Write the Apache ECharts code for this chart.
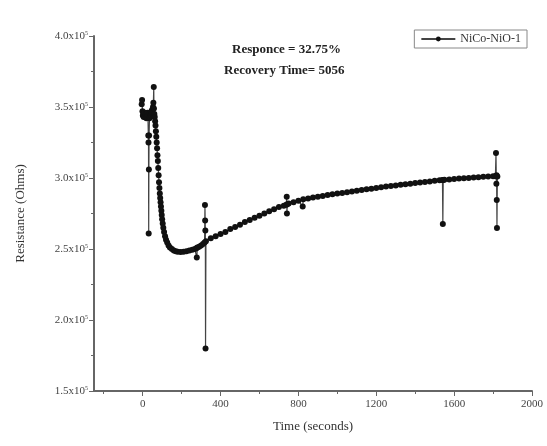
<!DOCTYPE html>
<html>
<head>
<meta charset="utf-8">
<script src="https://cdn.jsdelivr.net/npm/echarts@6/dist/echarts.min.js"></script>
<style>html,body{margin:0;padding:0;background:#fff}#c{width:547px;height:446px}</style>
</head>
<body>
<div id="c"></div>
<script>
// Time (s)
const times = [
 -5,-3,-1,1,3,5,7,9,11,13,15,17,19,21,23,25,27,29,30,31,32,33,35,37,39,41,43,45,47,49,51,53,55,57,58,60,62,
 64,66,68,70,72,74,76,78,80,82,84,86,88,90,92,94,96,98,100,103,106,110,115,120,126,133,140,150,160,170,180,195,210,225,240,255,268,276,278,281,290,300,310,318,320,321,322,323,
 325,350,375,400,425,450,475,500,525,550,575,600,625,650,675,700,725,738,740,741,743,750,775,800,822,825,850,875,900,925,950,975,1000,1025,1050,1075,1100,1125,1150,1175,1200,1225,1250,1275,1300,1325,1350,1375,1400,1425,1450,1475,1500,1525,1540,1542,1544,1550,1575,1600,1625,1650,1675,1700,1725,1750,1775,1800,1812,1815,1817,1818,1819,1820,1822
];
// Resistance (x10^5 Ohms)
const resistance = [
 3.52,3.55,3.47,3.44,3.46,3.43,3.45,3.44,3.46,3.43,3.45,3.44,3.42,3.45,3.43,3.46,3.44,3.30,3.25,2.61,3.06,3.30,3.42,3.45,3.43,3.46,3.44,3.47,3.45,3.48,3.46,3.50,3.53,3.64,3.49,3.45,3.43,
 3.40,3.37,3.33,3.29,3.25,3.21,3.16,3.12,3.07,3.02,2.97,2.93,2.89,2.86,2.83,2.80,2.77,2.74,2.71,2.68,2.65,2.62,2.59,2.565,2.545,2.525,2.51,2.50,2.49,2.485,2.48,2.478,2.48,2.485,2.49,2.495,2.50,2.505,2.44,2.51,2.515,2.525,2.535,2.545,2.81,2.70,2.63,1.80,
 2.555,2.575,2.59,2.605,2.62,2.64,2.655,2.67,2.69,2.705,2.72,2.735,2.75,2.765,2.78,2.795,2.805,2.812,2.868,2.75,2.815,2.82,2.83,2.84,2.80,2.85,2.855,2.862,2.868,2.874,2.88,2.885,2.89,2.895,2.90,2.905,2.91,2.915,2.92,2.925,2.93,2.935,2.94,2.944,2.948,2.952,2.956,2.96,2.964,2.968,2.972,2.976,2.98,2.984,2.986,2.676,2.986,2.987,2.99,2.993,2.996,2.998,3.000,3.003,3.005,3.008,3.01,3.012,3.012,3.176,2.96,3.02,2.845,2.648,3.01
];
const xLabelValues = [0, 400, 800, 1200, 1600, 2000];
const xMinorValues = [-200, 200, 600, 1000, 1400, 1800];
const seriesName = 'NiCo-NiO-1';
const noteLines = ['Responce = 32.75%', 'Recovery Time= 5056'];

const data = times.map((t, i) => [t, resistance[i]]);
const font = 'Liberation Serif';
const axisColor = '#666';
const chart = echarts.init(document.getElementById('c'));
chart.setOption({
  animation: false,
  textStyle: { fontFamily: font },
  grid: { left: 94, right: 15, top: 36, bottom: 55 },
  legend: {
    data: [seriesName], right: 20, top: 30, orient: 'vertical',
    borderColor: '#888', borderWidth: 1, borderRadius: 0, padding: [3, 6, 3, 6],
    itemWidth: 34, itemHeight: 6,
    textStyle: { fontFamily: font, fontSize: 12, color: '#333' }
  },
  xAxis: [{
    type: 'value', min: -250, max: 2000,
    name: 'Time (seconds)', nameLocation: 'middle', nameGap: 29,
    nameTextStyle: { fontFamily: font, fontSize: 13, color: '#333' },
    axisLine: { onZero: false, lineStyle: { color: axisColor, width: 2 } },
    axisTick: { show: true, length: 5, customValues: xLabelValues, lineStyle: { color: axisColor, width: 1 } },
    axisLabel: { customValues: xLabelValues, formatter: v => String(v), fontFamily: font, fontSize: 11, color: '#444', margin: 8 },
    splitLine: { show: false }
  }, {
    type: 'value', min: -250, max: 2000, position: 'bottom',
    axisLine: { show: false, onZero: false },
    axisTick: { show: true, length: 3, customValues: xMinorValues, lineStyle: { color: axisColor, width: 1 } },
    axisLabel: { show: false },
    splitLine: { show: false }
  }],
  yAxis: {
    type: 'value', min: 1.5, max: 4.0, interval: 0.5,
    name: 'Resistance (Ohms)', nameLocation: 'middle', nameGap: 67,
    nameTextStyle: { fontFamily: font, fontSize: 13, color: '#333' },
    axisLine: { show: true, onZero: false, lineStyle: { color: axisColor, width: 2 } },
    axisTick: { show: true, length: 5, lineStyle: { color: axisColor, width: 1 } },
    minorTick: { show: true, splitNumber: 2, length: 3, lineStyle: { color: axisColor } },
    axisLabel: {
      fontFamily: font, fontSize: 11, color: '#444', margin: 6,
      formatter: v => v.toFixed(1) + 'x10{sup|5}',
      rich: { sup: { fontSize: 6, verticalAlign: 'top', padding: [0, 0, 6, 0], fontFamily: font, color: '#444' } }
    },
    splitLine: { show: false }
  },
  graphic: [
    { type: 'text', left: 232, top: 43, style: { text: noteLines[0], fontFamily: font, fontSize: 13, fontWeight: 'bold', fill: '#222' } },
    { type: 'text', left: 224, top: 64, style: { text: noteLines[1], fontFamily: font, fontSize: 13, fontWeight: 'bold', fill: '#222' } }
  ],
  series: [{
    name: seriesName, type: 'line', xAxisIndex: 0, data: data,
    symbol: 'circle', symbolSize: 6, showSymbol: true,
    itemStyle: { color: '#111' },
    lineStyle: { color: '#444', width: 1.2 }
  }]
});
</script>
</body>
</html>
